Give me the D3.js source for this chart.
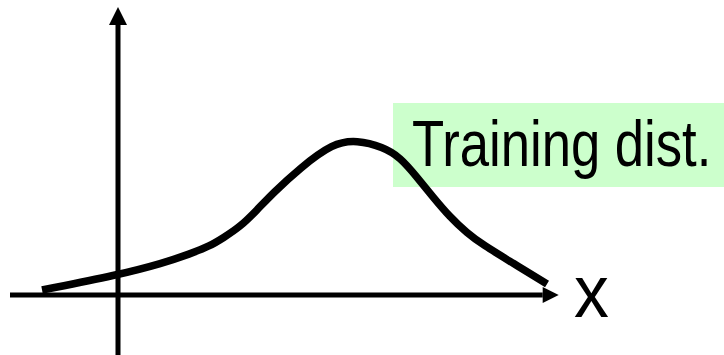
<!DOCTYPE html>
<html>
<head>
<meta charset="utf-8">
<script src="https://cdn.jsdelivr.net/npm/d3@7"></script>
<style>
  html, body { margin: 0; padding: 0; background: #fff; }
  svg { display: block; }
</style>
</head>
<body>
<svg id="chart" width="724" height="355"></svg>
<script>
// Sketch of a training distribution over x (density, arbitrary units)
const xValues = [-0.844, 0.0, 0.5, 0.8, 1.022, 1.167, 1.356, 1.544, 1.722, 2.022, 2.389, 2.656, 2.944, 3.133, 3.322, 3.5, 3.689, 3.878, 4.056, 4.389, 4.767];
const densityValues = [0.032, 0.129, 0.206, 0.265, 0.316, 0.368, 0.439, 0.548, 0.658, 0.819, 0.981, 1.0, 0.955, 0.890, 0.761, 0.632, 0.503, 0.400, 0.323, 0.206, 0.071];
const curveLabel = "Training dist.";
const axisLabel = "x";

const svg = d3.select("#chart");

const x = d3.scaleLinear().domain([-1, 5]).range([28, 568]);
const y = d3.scaleLinear().domain([0, 1]).range([295, 140]);

const axisXStart = -1.2, axisXEnd = 4.93;
const axisYStart = -0.39, axisYEnd = 1.858;

const defs = svg.append("defs");
defs.append("marker")
  .attr("id", "headY")
  .attr("viewBox", "0 0 10 10")
  .attr("refX", 0).attr("refY", 5)
  .attr("markerUnits", "userSpaceOnUse")
  .attr("markerWidth", 18).attr("markerHeight", 19)
  .attr("orient", "auto")
  .append("path").attr("d", "M0,0 L10,5 L0,10 Z").attr("fill", "#000");
defs.append("marker")
  .attr("id", "headX")
  .attr("viewBox", "0 0 10 10")
  .attr("refX", 0).attr("refY", 5)
  .attr("markerUnits", "userSpaceOnUse")
  .attr("markerWidth", 19).attr("markerHeight", 16)
  .attr("orient", "auto")
  .append("path").attr("d", "M0,0 L10,5 L0,10 Z").attr("fill", "#000");

// label box behind the curve
const labelG = svg.append("g");
labelG.append("rect")
  .attr("x", 393).attr("y", 103)
  .attr("width", 724 - 393).attr("height", 84)
  .attr("fill", "#ccffcc");
labelG.append("text")
  .attr("transform", "translate(412,166) scale(0.81,1)")
  .attr("font-family", "Liberation Sans, Arial, sans-serif")
  .attr("font-size", 65)
  .attr("fill", "#000")
  .text(curveLabel);

// x axis
svg.append("line")
  .attr("x1", x(axisXStart)).attr("y1", y(0))
  .attr("x2", x(axisXEnd) - 19).attr("y2", y(0))
  .attr("stroke", "#000").attr("stroke-width", 5)
  .attr("marker-end", "url(#headX)");

// y axis
svg.append("line")
  .attr("x1", x(0)).attr("y1", y(axisYStart))
  .attr("x2", x(0)).attr("y2", y(axisYEnd) + 18)
  .attr("stroke", "#000").attr("stroke-width", 5)
  .attr("marker-end", "url(#headY)");

svg.append("text")
  .attr("transform", "translate(574,317) scale(0.93,1)")
  .attr("font-family", "Liberation Sans, Arial, sans-serif")
  .attr("font-size", 75)
  .attr("fill", "#000")
  .text(axisLabel);

// density curve, smoothed through the sampled values
const line = d3.line()
  .x((d, i) => x(xValues[i]))
  .y(d => y(d))
  .curve(d3.curveBasis);

svg.append("path")
  .datum(densityValues)
  .attr("d", line)
  .attr("fill", "none")
  .attr("stroke", "#000")
  .attr("stroke-width", 7.5)
  .attr("stroke-linejoin", "round");
</script>
</body>
</html>
